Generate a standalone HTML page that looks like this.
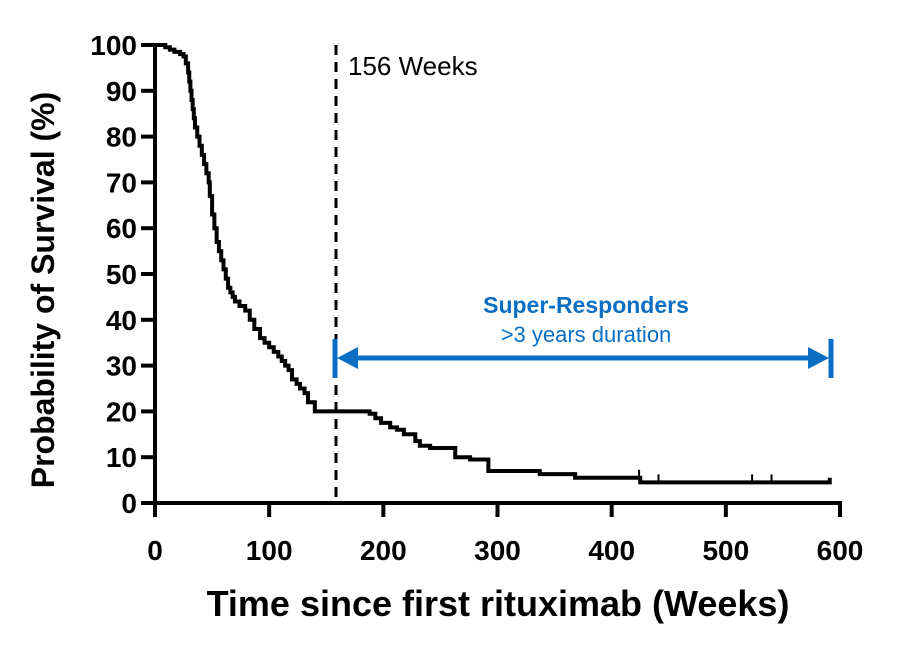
<!DOCTYPE html>
<html><head><meta charset="utf-8"><style>
body{margin:0;background:#fff}
svg{display:block;font-family:"Liberation Sans",Arial,sans-serif}
</style></head><body>
<svg width="904" height="652" viewBox="0 0 904 652">
<g id="axes"></g>
<g id="curve"></g>
<line x1="336" y1="45" x2="336" y2="503" stroke="#000" stroke-width="3" stroke-dasharray="10,7"/>
<text x="348" y="75" font-size="26">156 Weeks</text>
<g stroke="#0a6fc2" fill="#0a6fc2">
<line x1="345" y1="358" x2="822" y2="358" stroke-width="5"/>
<line x1="335" y1="339" x2="335" y2="378" stroke-width="5"/>
<line x1="831" y1="339" x2="831" y2="378" stroke-width="5"/>
<polygon points="337,358 358,347 358,369" stroke="none"/>
<polygon points="829,358 808,347 808,369" stroke="none"/>
</g>
<text x="586" y="313" font-size="23" font-weight="bold" fill="#0a6fc2" text-anchor="middle">Super-Responders</text>
<text x="586" y="342" font-size="22" fill="#0a6fc2" text-anchor="middle">&gt;3 years duration</text>
<text x="498" y="616" font-size="36" font-weight="bold" text-anchor="middle">Time since first rituximab (Weeks)</text>
<text transform="translate(54,290) rotate(-90)" font-size="32" font-weight="bold" text-anchor="middle">Probability of Survival (%)</text>
</svg>
<script>
const xTicks=[0,100,200,300,400,500,600];
const yTicks=[0,10,20,30,40,50,60,70,80,90,100];
const weeks=[0,9,13,17,22,25,27,29,30,31,32,33,34,35,37,39,41,43,45,47,48,50,52,54,56,58,60,62,64,66,68,70,74,79,83,87,92,96,100,104,108,111,114,117,120,124,127,131,134,140,188,193,198,206,212,218,228,232,241,263,276,292,337,368,425,591];
const survival=[100,99.5,99,98.5,98,97.5,96,94,92,90,88,86,84,82,80,78,76,74,72,70,67,63,60,57,55,53,51,49,47,46,45,44,43,42,40,38,36,35,34,33,32,31,30,29,27,26,25,24,22,20,19.5,18.5,17.5,16.5,16,15,13.5,12.5,12,10,9.5,7,6.3,5.5,4.5,5.5];
const censorWeeks=[424,441,523,540];
const X=w=>155+w*1.1417, Y=p=>503-p*4.58;
const ns="http://www.w3.org/2000/svg";
function mk(t,a,p){const e=document.createElementNS(ns,t);for(const k in a)e.setAttribute(k,a[k]);p.appendChild(e);return e;}
const ax=document.getElementById('axes');
const xl=mk('line',{x1:155,y1:503,x2:842,y2:503,stroke:'#000','stroke-width':4},ax);


const yl=mk('line',{x1:155,y1:43,x2:155,y2:505,stroke:'#000','stroke-width':4},ax);


xTicks.forEach(v=>{
 const l=mk('line',{x1:X(v),y1:503,x2:X(v),y2:517,stroke:'#000','stroke-width':4},ax);
 
 
 const t=mk('text',{x:X(v),y:560,'font-size':28,'font-weight':'bold','text-anchor':'middle'},ax);
 t.textContent=v;
 
 
});
yTicks.forEach(v=>{
 const l=mk('line',{x1:141,y1:Y(v),x2:155,y2:Y(v),stroke:'#000','stroke-width':4},ax);
 
 
 const t=mk('text',{x:137,y:Y(v)+10,'font-size':28,'font-weight':'bold','text-anchor':'end'},ax);
 t.textContent=v;
 
 
});
const cv=document.getElementById('curve');
let d='M'+X(weeks[0])+','+Y(survival[0]);
for(let i=1;i<weeks.length;i++){d+=' H'+X(weeks[i])+' V'+Y(survival[i]);}
const p=mk('path',{d:d,fill:'none',stroke:'#000','stroke-width':4},cv);


censorWeeks.forEach(w=>{
 let s=survival[0];for(let i=0;i<weeks.length;i++)if(weeks[i]<=w)s=survival[i];
 const c=mk('line',{x1:X(w),y1:Y(s),x2:X(w),y2:Y(s)-8,stroke:'#000','stroke-width':2},cv);
 
 
});
</script>
</body></html>
